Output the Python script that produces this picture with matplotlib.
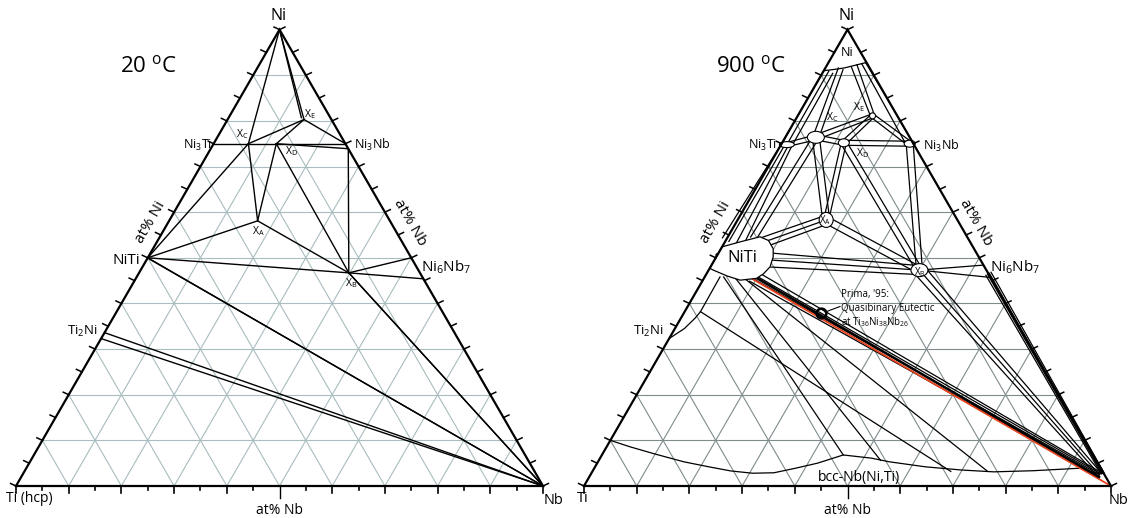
import numpy as np
import matplotlib
matplotlib.use("Agg")
import matplotlib.pyplot as plt
from matplotlib.patches import Ellipse, Polygon

plt.rcParams['font.family'] = ['Open Sans', 'DejaVu Sans']
plt.rcParams['mathtext.fontset'] = 'custom'
plt.rcParams['mathtext.rm'] = 'Open Sans'
plt.rcParams['mathtext.default'] = 'regular'

# ---------------- geometry (pixel frame of the figure) ----------------
SIDE = 527.0
HGT = SIDE * np.sqrt(3) / 2
ORIGIN_LEFT = (16.0, 486.0)
ORIGIN_RIGHT = (584.0, 486.0)

# ---------------- data: compositions in at% (Ni, Nb) ----------------
grid_levels = [10, 20, 30, 40, 50, 60, 70, 80, 90]
tick_levels = list(range(0, 101, 5))

# 20 C diagram: invariant points
left_names = ['Ni', 'Ni3Ti', 'XC', 'XD', 'XE', 'XE2', 'Ni3Nb', 'Ni3Nb_b', 'XA', 'XB', 'XB2',
              'NiTi', 'NiTi2', 'Ni6Nb7_a', 'Ni6Nb7_b', 'Ti2Ni_a', 'Ti2Ni_b', 'Nb']
left_ni = [100, 75, 75, 75, 80.3, 80.7, 75, 73.9, 58.1, 46.7, 46.4,
           50, 49.7, 50, 45.4, 33.6, 32.3, 0]
left_nb = [0, 0, 6.6, 11.9, 14.5, 13.8, 25, 26.1, 16.8, 39.8, 40.2,
           0, 0.5, 50, 54.6, 0, 0, 100]
left_lines = [('Ni', 'XC'), ('XC', 'XA'), ('Ni', 'XE'), ('Ni', 'XE2'), ('XE', 'Ni3Nb'),
              ('XE', 'XC'), ('XE', 'XD'), ('Ni3Ti', 'Ni3Nb'), ('XD', 'Ni3Nb_b'),
              ('Ni3Nb_b', 'XB'), ('XD', 'XA'), ('XD', 'XB'), ('NiTi', 'XC'), ('NiTi', 'XA'),
              ('XA', 'XB'), ('NiTi', 'XB'), ('XB', 'Ni6Nb7_a'), ('XB', 'Ni6Nb7_b'),
              ('NiTi', 'Nb'), ('NiTi2', 'Nb'), ('XB', 'Nb'), ('XB2', 'Nb'),
              ('Ti2Ni_a', 'Nb'), ('Ti2Ni_b', 'Nb')]

# 900 C diagram: single-phase blobs (centre composition, size in px)
blob_names = ['Ni3Ti', 'XC', 'XD', 'XE', 'Ni3Nb', 'XA', 'XB']
blob_ni = [74.8, 76.4, 75.2, 81.1, 75.0, 58.3, 47.3]
blob_nb = [1.1, 5.8, 11.7, 14.2, 24.3, 16.8, 40.0]
blob_w = [15, 17, 11, 6, 11, 14, 17]
blob_h = [6, 12, 8, 6, 7, 15, 13]

niti_outline_ni = [52.4, 53.5, 54.6, 53.8, 52.0, 50.2, 48.0, 46.5, 45.5, 45.1, 46.0, 47.3, 47.7]
niti_outline_nb = [0.0, 2.9, 6.1, 8.1, 9.9, 10.8, 11.3, 10.8, 10.0, 7.1, 4.2, 0.9, 0.0]

ni_solvus_ni = [91.0, 91.3, 91.6, 92.1, 92.8]
ni_solvus_nb = [0.0, 2.0, 3.6, 5.1, 7.2]

bcc_ni = [10.0, 8.6, 7.0, 5.3, 4.2, 3.3, 2.8, 2.9, 3.9, 5.0, 6.8, 6.1, 5.3, 4.2, 3.5,
          3.1, 3.35, 3.9, 2.8, 2.8]
bcc_nb = [0.0, 4.4, 10.0, 16.3, 21.6, 26.2, 30.6, 34.6, 38.2, 41.8, 45.8, 51.5, 55.3, 62.7, 69.9,
          76.2, 83.6, 92.2, 95.2, 97.2]

ti2ni_ni = [32.3, 34.5, 36.8, 38.2, 45.8]
ti2ni_nb = [0.0, 1.8, 2.7, 3.0, 2.9]

# two-phase bands: (start, end, number of tie lines, width at start px, width at end px)
bands = [
    ((90.9, 1.0), 'Ni3Ti', 3, 9, 10),
    ((91.4, 3.0), 'XC', 2, 5, 6),
    ((92.1, 5.2), 'XE', 2, 6, 4),
    ((92.6, 6.8), 'Ni3Nb', 2, 4, 7),
    ('Ni3Ti', 'XC', 2, 4, 5),
    ('XC', 'XE', 2, 5, 4),
    ('XD', 'XE', 2, 5, 4),
    ('Ni3Nb', 'XE', 2, 5, 4),
    ('XC', 'XD', 2, 5, 5),
    ('XD', 'Ni3Nb', 2, 5, 5),
    ('Ni3Ti', (53.2, 1.5), 4, 10, 22),
    ('XC', (54.2, 5.0), 2, 6, 6),
    ('XC', 'XA', 2, 7, 7),
    ('XD', 'XA', 2, 5, 5),
    ('XD', 'XB', 2, 6, 6),
    ('Ni3Nb', 'XB', 2, 7, 6),
    ((53.5, 7.5), 'XA', 3, 10, 9),
    ('XA', 'XB', 2, 7, 7),
    ((49.5, 10.8), 'XB', 3, 14, 9),
    ('XB', (48.4, 51.6), 1, 0, 0),
    ('XB', (45.7, 54.3), 1, 0, 0),
    ('XB', (2.6, 96.4), 3, 12, 5),
    ((46.5, 53.5), (2.8, 97.0), 4, 6, 3),
    ((46.0, 9.0), (2.6, 96.6), 4, 12, 4),
]
# single tie lines into the bcc field
fan_lines = [((45.8, 3.6), (6.8, 45.8)),
             ((38.2, 3.0), (3.2, 68.0)),
             ((45.5, 6.0), (5.6, 53.5)),
             ((45.3, 8.0), (3.2, 75.0))]
quasibinary = [(50.0, 0.0), (0.0, 100.0)]
prima_point = (38.0, 26.0)


def P(o, ni, nb):
    return o[0] + SIDE * (nb + ni / 2.0) / 100.0, o[1] - HGT * ni / 100.0


fig = plt.figure(figsize=(11.29, 5.18), dpi=100)
ax = fig.add_axes([0, 0, 1, 1])
ax.set_xlim(0, 1129)
ax.set_ylim(518, 0)
ax.axis('off')


def frame(o, gcol):
    for k in grid_levels:
        for a, b in [((k, 0), (k, 100 - k)), ((0, k), (100 - k, k)), ((0, 100 - k), (100 - k, 0))]:
            x1, y1 = P(o, *a)
            x2, y2 = P(o, *b)
            ax.plot([x1, x2], [y1, y2], color=gcol, lw=0.8, zorder=1)
    corners = [P(o, 0, 0), P(o, 0, 100), P(o, 100, 0), P(o, 0, 0)]
    ax.plot([c[0] for c in corners], [c[1] for c in corners], color='black', lw=1.6,
            zorder=8, solid_joinstyle='miter')
    ca, sa = np.cos(np.radians(25)), np.sin(np.radians(25))
    for k in tick_levels:
        # bottom
        x, y = P(o, 0, k)
        ln = 12 if k == 50 else (7 if k % 10 == 0 else 4)
        ax.plot([x, x], [y, y + ln], color='black', lw=1.2 if k != 50 else 1.0, zorder=8)
        ln2 = 6
        # left side
        x, y = P(o, k, 0)
        ax.plot([x, x - ln2 * ca], [y, y - ln2 * sa], color='black', lw=1.1, zorder=8)
        # right side
        x, y = P(o, k, 100 - k)
        ax.plot([x, x + ln2 * ca], [y, y - ln2 * sa], color='black', lw=1.1, zorder=8)


frame(ORIGIN_LEFT, '#a9bcbf')
frame(ORIGIN_RIGHT, '#7f8b8d')

# ---------------- left diagram ----------------
lp = {n: (a, b) for n, a, b in zip(left_names, left_ni, left_nb)}
for a, b in left_lines:
    x1, y1 = P(ORIGIN_LEFT, *lp[a])
    x2, y2 = P(ORIGIN_LEFT, *lp[b])
    ax.plot([x1, x2], [y1, y2], color='black', lw=1.0, zorder=3)

# ---------------- right diagram ----------------
R = ORIGIN_RIGHT
bp = {n: (a, b) for n, a, b in zip(blob_names, blob_ni, blob_nb)}


def comp(v):
    return bp[v] if isinstance(v, str) else v


for A, B, n, wA, wB in bands:
    x1, y1 = P(R, *comp(A))
    x2, y2 = P(R, *comp(B))
    d = np.array([x2 - x1, y2 - y1])
    d = d / np.hypot(*d)
    nx, ny = -d[1], d[0]
    for i in range(n):
        t = (i - (n - 1) / 2.0) / (n - 1) if n > 1 else 0.0
        oa, ob = t * wA, t * wB
        ax.plot([x1 + nx * oa, x2 + nx * ob], [y1 + ny * oa, y2 + ny * ob],
                color='black', lw=0.9, zorder=3)

for a, b in fan_lines:
    x1, y1 = P(R, *a)
    x2, y2 = P(R, *b)
    ax.plot([x1, x2], [y1, y2], color='black', lw=0.9, zorder=3)

# quasibinary section
x1, y1 = P(R, *quasibinary[0])
x2, y2 = P(R, *quasibinary[1])
ax.plot([x1, x2], [y1, y2], color='#e8431e', lw=1.3, zorder=4)
ax.plot([x1 + 1, x2 - 12], [y1 - 3, y2 - 9], color='black', lw=1.8, zorder=4)

# phase boundaries
pts = [P(R, a, b) for a, b in zip(ni_solvus_ni, ni_solvus_nb)]
ax.plot([p[0] for p in pts], [p[1] for p in pts], color='black', lw=0.9, zorder=3)
pts = [P(R, a, b) for a, b in zip(bcc_ni, bcc_nb)]
ax.plot([p[0] for p in pts], [p[1] for p in pts], color='black', lw=0.9, zorder=3)
pts = [P(R, a, b) for a, b in zip(ti2ni_ni, ti2ni_nb)]
ax.plot([p[0] for p in pts], [p[1] for p in pts], color='black', lw=0.9, zorder=3)

# single-phase blobs
for n, a, b, w, h in zip(blob_names, blob_ni, blob_nb, blob_w, blob_h):
    x, y = P(R, a, b)
    ax.add_patch(Ellipse((x, y), w, h, facecolor='white', edgecolor='black', lw=0.8, zorder=5))
pts = [P(R, a, b) for a, b in zip(niti_outline_ni, niti_outline_nb)]
ax.add_patch(Polygon(pts, closed=True, facecolor='white', edgecolor='black', lw=0.9, zorder=5))

# Prima point
px_, py_ = P(R, *prima_point)
ax.plot([px_], [py_], marker='o', ms=7, mfc='none', mec='black', mew=1.8, zorder=6)
ax.plot([px_ + 4, 840], [py_ - 0.5, 306.5], color='black', lw=0.8, zorder=6)
ax.text(841, 295, "Prima, '95:", fontsize=7, va='center', ha='left', zorder=6)
ax.text(841, 309, "Quasibinary Eutectic", fontsize=7, va='center', ha='left', zorder=6)
ax.text(841, 322.5, "at Ti$_{36}$Ni$_{38}$Nb$_{26}$", fontsize=7, va='center', ha='left', zorder=6)

# ---------------- labels ----------------
def T(x, y, s, fs, ha='center', rot=0, **kw):
    ax.text(x, y, s, fontsize=fs, ha=ha, va='center', rotation=rot, zorder=9,
            rotation_mode='anchor', **kw)


for dx in (0, 568):
    T(279 + dx, 16, 'Ni', 11.5)
    T(212 + dx - (0 if dx == 0 else 3), 145, 'Ni$_3$Ti', 9, ha='right')
    T(150 + dx - (0 if dx == 0 else 3), 222, 'at% Ni', 11, rot=60)
    T(410 + dx - (0 if dx == 0 else 2), 222, 'at% Nb', 11, rot=-60)
    T(279 + dx, 510, 'at% Nb', 10)
    T(98 + dx - (0 if dx == 0 else 2), 331, 'Ti$_2$Ni', 9.5, ha='right')

T(148, 66, '20 $^{o}$C', 16)
T(751, 66, '900 $^{o}$C', 16)
T(6, 499, 'Ti (hcp)', 10, ha='left')
T(554, 500, 'Nb', 10.5)
T(583, 499, 'Ti', 10.5)
T(1119, 500, 'Nb', 10.5)

# left
T(354, 145, 'Ni$_3$Nb', 9, ha='left')
T(140, 261, 'NiTi', 11, ha='right')
T(421, 267, 'Ni$_6$Nb$_7$', 11, ha='left')
T(242, 134, 'X$_C$', 7.5)
T(310, 114, 'X$_E$', 7.5)
T(291, 151, 'X$_D$', 7.5)
T(258, 231, 'X$_A$', 7.5)
T(351, 283, 'X$_B$', 7.5)

# right
T(923, 146, 'Ni$_3$Nb', 9, ha='left')
T(742, 258, 'NiTi', 12)
T(990, 267, 'Ni$_6$Nb$_7$', 11, ha='left')
T(832, 117, 'X$_C$', 7.5)
T(859, 107, 'X$_E$', 7.5)
T(862, 153, 'X$_D$', 7.5)
T(825, 220, 'X$_A$', 7)
T(919.5, 272, 'X$_B$', 7)
T(847, 53, 'Ni', 9)
T(859, 477, 'bcc-Nb(Ni,Ti)', 10)

fig.savefig('out.png', dpi=100)
